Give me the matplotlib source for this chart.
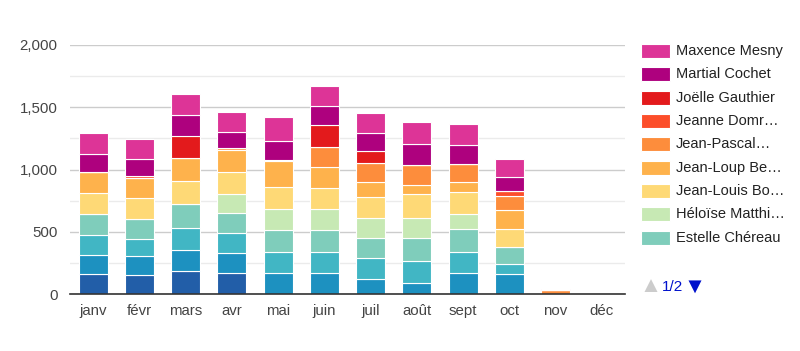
import matplotlib
matplotlib.use("Agg")
import matplotlib.pyplot as plt
from matplotlib.patches import Rectangle
import numpy as np

plt.rcParams['font.family'] = ['Liberation Sans', 'DejaVu Sans']

months = ["janv", "févr", "mars", "avr", "mai", "juin", "juil", "août", "sept", "oct", "nov", "déc"]

# series, bottom to top of the stack
names = ["Alain Dupuis", "Bernard Lemoine", "Dominique Roux", "Estelle Chéreau", "Héloïse Matthi…",
         "Jean-Louis Bo…", "Jean-Loup Be…", "Jean-Pascal…", "Jeanne Domr…", "Joëlle Gauthier",
         "Martial Cochet", "Maxence Mesny"]
colors = ["#225ea8", "#1d91c0", "#41b6c4", "#7fcdbb", "#c7e9b4", "#fed976",
          "#feb24c", "#fd8d3c", "#fc4e2a", "#e31a1c", "#ae017e", "#dd3497"]

alain     = [161, 153, 185, 166,   0,   0,   0,   0,   0,   0,  0, 0]
bernard   = [153, 153, 169, 161, 166, 166, 118,  91, 171, 158,  0, 0]
dominique = [163, 137, 179, 161, 169, 169, 169, 174, 169,  80,  0, 0]
estelle   = [166, 158, 188, 165, 179, 179, 161, 182, 180, 141,  0, 0]
heloise   = [  0,   0,   0, 153, 169, 169, 161, 165, 123,   0,  0, 0]
jlouis    = [171, 173, 187, 174, 179, 171, 169, 188, 179, 140,  0, 0]
jloup     = [169, 161, 187, 174, 206, 169, 125,  75,  80, 155,  0, 0]
jpascal   = [  0,   0,   0,  16,   8, 161, 148, 161, 142, 112, 30, 0]
jeanne    = [  0,  12,   0,   0,   0,   0,   0,   0,   0,  40,  0, 0]
joelle    = [  0,   0, 174,   0,   0, 174, 101,   0,   0,   0,  0, 0]
martial   = [145, 137, 166, 133, 155, 153, 145, 166, 153, 115,  0, 0]
maxence   = [164, 161, 169, 158, 188, 163, 156, 177, 166, 142, 10, 0]

series = [alain, bernard, dominique, estelle, heloise, jlouis, jloup,
          jpascal, jeanne, joelle, martial, maxence]

fig = plt.figure(figsize=(8, 3.51), dpi=100)
ax = fig.add_axes([70/800, 57/351, 555/800, 249/351])

x = np.arange(len(months))
bottom = np.zeros(len(months))
for vals, c, n in zip(series, colors, names):
    vals = np.array(vals, dtype=float)
    ax.bar(x, vals, 0.63, bottom=bottom, color=c, edgecolor="white", linewidth=0.8, label=n, zorder=3)
    bottom += vals

ax.set_xlim(-0.5, 11.5)
ax.set_ylim(0, 2000)
ax.set_yticks([0, 500, 1000, 1500, 2000])
ax.set_yticklabels(["0", "500", "1,000", "1,500", "2,000"])
ax.set_yticks([250, 750, 1250, 1750], minor=True)
ax.set_xticks(x)
ax.set_xticklabels(months)
ax.tick_params(axis="both", length=0, labelsize=10.8, colors="#444444")
ax.tick_params(axis="y", which="minor", length=0)
ax.tick_params(axis="y", pad=9)
ax.tick_params(axis="x", pad=7)
ax.grid(axis="y", which="major", color="#cccccc", linewidth=1, zorder=0)
ax.grid(axis="y", which="minor", color="#ebebeb", linewidth=1, zorder=0)
for s in ["top", "right", "left"]:
    ax.spines[s].set_visible(False)
ax.spines["bottom"].set_color("#333333")
ax.spines["bottom"].set_linewidth(1.2)
ax.spines["bottom"].set_zorder(5)

# legend, page 1 (top series first)
shown = list(range(len(names) - 1, 2, -1))
for i, k in enumerate(shown):
    ycen = 51 + i * 23.35
    fig.patches.append(Rectangle((641/800, 1 - (ycen + 7)/351), 29/800, 14/351,
                                 transform=fig.transFigure, facecolor=colors[k],
                                 edgecolor="white", linewidth=0.8))
    fig.text(676/800, 1 - ycen/351, names[k], fontsize=10.5, color="#222222", va="center", ha="left")

fig.text(650/800, 1 - 287/351, "▲", fontsize=16, color="#cccccc", va="center", ha="center")
fig.text(662/800, 1 - 287/351, "1/2", fontsize=11, color="#0011cc", va="center", ha="left")
fig.text(694/800, 1 - 287/351, "▼", fontsize=16, color="#0011cc", va="center", ha="center")

fig.savefig("out.png", dpi=100)
